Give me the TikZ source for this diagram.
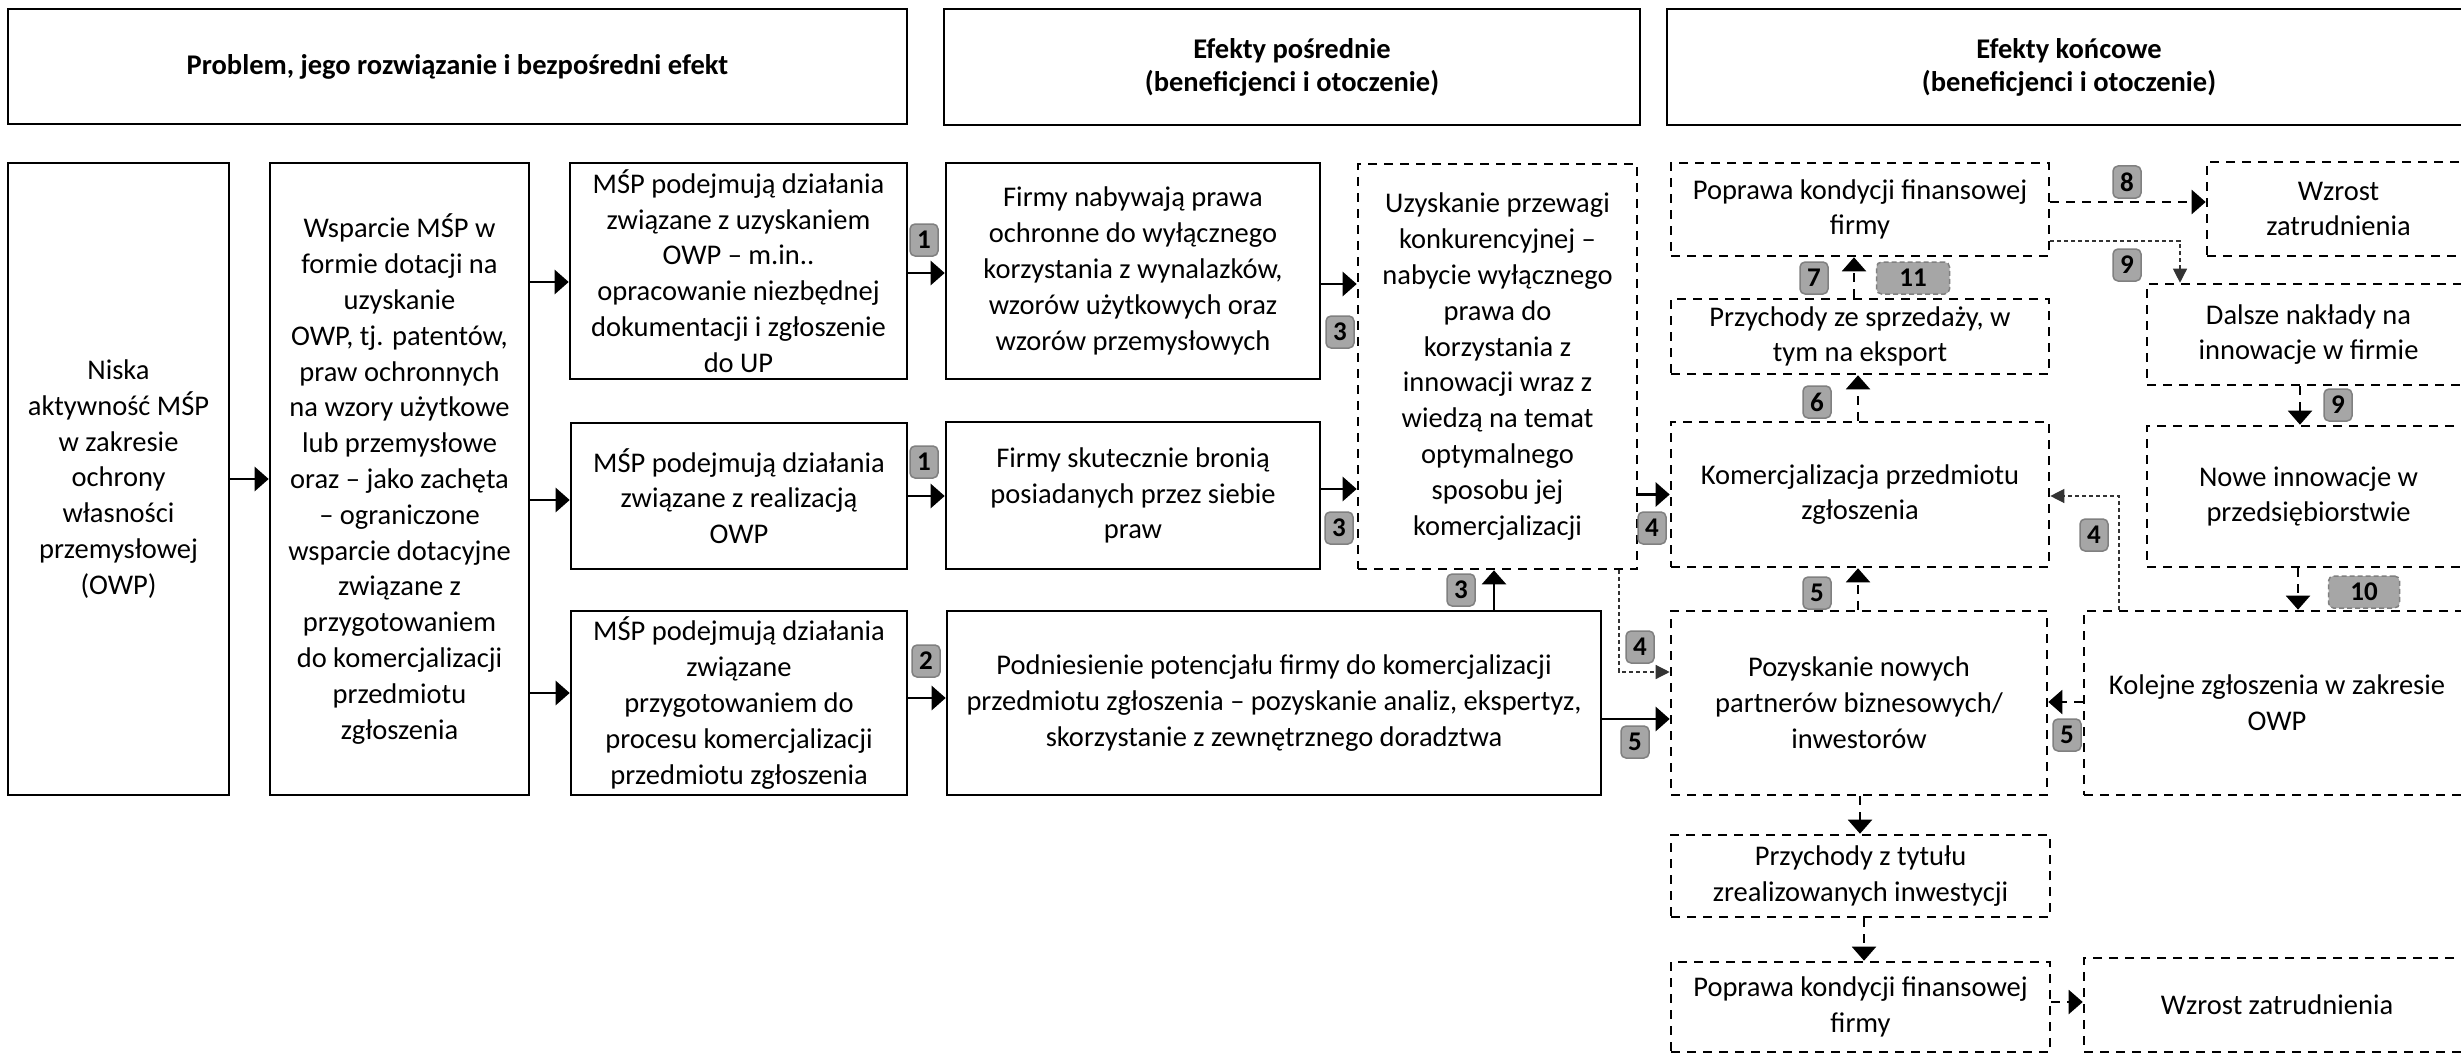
\documentclass[tikz,border=0pt]{standalone}
\usepackage{fontspec}
\setmainfont{Carlito}
\usetikzlibrary{arrows.meta,calc}
\begin{document}
\begin{tikzpicture}[x=1pt,y=-1pt,
  every node/.style={font=\fontsize{28.5}{35.8}\selectfont, align=center, inner sep=0pt},
  hbox/.style={draw, line width=2.8pt, font=\fontsize{28.5}{33}\selectfont\bfseries},
  sbox/.style={draw, line width=2.6pt},
  dbox/.style={draw, line width=2.6pt, dash pattern=on 9pt off 7pt},
  arr/.style={line width=2.6pt, -{Triangle[length=14pt,width=24pt]}},
  darr/.style={line width=2.2pt, dash pattern=on 9pt off 7pt, -{Triangle[length=14pt,width=24pt]}},
  tarr/.style={line width=1.3pt, dash pattern=on 4pt off 3pt, draw=black!80, -{Triangle[length=14pt,width=14pt]}},
  badge/.style={draw=black!50, fill=black!35, line width=1.5pt, rounded corners=5pt, minimum width=28pt, minimum height=32pt, font=\fontsize{27}{30}\selectfont\bfseries},
  dbadge/.style={badge, dash pattern=on 5pt off 3pt},
]
\useasboundingbox (0,0) rectangle (2461,1054);
\clip (0,0) rectangle (2461,1054);

% headers
\node[hbox, minimum width=899pt, minimum height=115pt] (H1) at (457.5,66.5) {Problem, jego rozwiązanie i bezpośredni efekt};
\node[hbox, minimum width=696pt, minimum height=116pt] (H2) at (1292,67) {Efekty pośrednie\\(beneficjenci i otoczenie)};
\node[hbox, minimum width=804pt, minimum height=116pt] (H3) at (2069,67) {Efekty końcowe\\(beneficjenci i otoczenie)};

% column 1-3
\node[sbox, minimum width=221pt, minimum height=632pt] (A) at (118.5,479) {Niska\\aktywność MŚP\\w zakresie\\ochrony\\własności\\przemysłowej\\(OWP)};
\node[sbox, minimum width=259pt, minimum height=632pt] (B) at (399.5,479) {Wsparcie MŚP w\\formie dotacji na\\uzyskanie\\OWP, tj. patentów,\\praw ochronnych\\na wzory użytkowe\\lub przemysłowe\\oraz – jako zachęta\\– ograniczone\\wsparcie dotacyjne\\związane z\\przygotowaniem\\do komercjalizacji\\przedmiotu\\zgłoszenia};
\node[sbox, minimum width=337pt, minimum height=216pt] (C1) at (738.5,271) {MŚP podejmują działania\\związane z uzyskaniem\\OWP – m.in..\\opracowanie niezbędnej\\dokumentacji i zgłoszenie\\do UP};
\node[sbox, minimum width=336pt, minimum height=146pt] (C2) at (739,496) {MŚP podejmują działania\\związane z realizacją\\OWP};
\node[sbox, minimum width=336pt, minimum height=184pt] (C3) at (739,703) {MŚP podejmują działania\\związane\\przygotowaniem do\\procesu komercjalizacji\\przedmiotu zgłoszenia};

% intermediate
\node[sbox, minimum width=374pt, minimum height=216pt] (D1) at (1133,271) {Firmy nabywają prawa\\ochronne do wyłącznego\\korzystania z wynalazków,\\wzorów użytkowych oraz\\wzorów przemysłowych};
\node[sbox, minimum width=374pt, minimum height=147pt] (D2) at (1133,495.5) {Firmy skutecznie bronią\\posiadanych przez siebie\\praw};
\node[sbox, minimum width=654pt, minimum height=184pt] (D3) at (1274,703) {Podniesienie potencjału firmy do komercjalizacji\\przedmiotu zgłoszenia – pozyskanie analiz, ekspertyz,\\skorzystanie z zewnętrznego doradztwa};
\node[dbox, minimum width=279pt, minimum height=405pt] (E) at (1497.5,366.5) {Uzyskanie przewagi\\konkurencyjnej –\\nabycie wyłącznego\\prawa do\\korzystania z\\innowacji wraz z\\wiedzą na temat\\optymalnego\\sposobu jej\\komercjalizacji};

% final
\node[dbox, minimum width=378pt, minimum height=93pt] (F1) at (1860,209.5) {Poprawa kondycji finansowej\\firmy};
\node[dbox, minimum width=378pt, minimum height=75pt] (F2) at (1860,336.5) {Przychody ze sprzedaży, w\\tym na eksport};
\node[dbox, minimum width=378pt, minimum height=145pt] (F3) at (1860,494.5) {Komercjalizacja przedmiotu\\zgłoszenia};
\node[dbox, minimum width=376pt, minimum height=184pt] (H) at (1859,703) {Pozyskanie nowych\\partnerów biznesowych/\\inwestorów};
\node[dbox, minimum width=379pt, minimum height=82pt] (I) at (1860.5,876) {Przychody z tytułu\\zrealizowanych inwestycji};
\node[dbox, minimum width=379pt, minimum height=90pt] (J) at (1860.5,1007) {Poprawa kondycji finansowej\\firmy};
\node[dbox, minimum width=263pt, minimum height=94pt] (G1) at (2338.5,209) {Wzrost\\zatrudnienia};
\node[dbox, minimum width=323pt, minimum height=101pt] (G2) at (2308.5,334.5) {Dalsze nakłady na\\innowacje w firmie};
\node[dbox, minimum width=323pt, minimum height=141pt] (G3) at (2308.5,496.5) {Nowe innowacje w\\przedsiębiorstwie};
\node[dbox, minimum width=386pt, minimum height=184pt] (G4) at (2277,703) {Kolejne zgłoszenia w zakresie\\OWP};
\node[dbox, minimum width=386pt, minimum height=94pt] (K) at (2277,1005) {Wzrost zatrudnienia};

% connectors
\draw[arr] (A.east) -- (B.west);
\coordinate (c1in) at ([yshift=-11pt]C1.west);
\draw[arr] (B.east |- c1in) -- (c1in);
\coordinate (c2in) at ([yshift=-4pt]C2.west);
\draw[arr] (B.east |- c2in) -- (c2in);
\coordinate (c3in) at ([yshift=10pt]C3.west);
\draw[arr] (B.east |- c3in) -- (c3in);
\draw[arr] ([yshift=-2pt]C1.east) -- ([yshift=-2pt]D1.west);
\draw[arr] (C2.east) -- (D2.west |- C2.east);
\draw[arr] ([yshift=5pt]C3.east) -- ([yshift=5pt]D3.west);
\coordinate (d1e) at ([yshift=-13pt]D1.east);
\draw[arr] (d1e) -- (E.west |- d1e);
\coordinate (d2e) at ([yshift=6.5pt]D2.east);
\draw[arr] (d2e) -- (E.west |- d2e);
\coordinate (d3e) at ([xshift=-3.5pt]E.south);
\draw[arr] (D3.north -| d3e) -- (d3e);
\draw[arr] (E.east |- F3.west) -- (F3.west);
\draw[tarr] ([xshift=121.5pt]E.south) |- ([yshift=31pt]H.west);
\coordinate (h5) at ([yshift=-16pt]H.west);
\draw[arr] (D3.east |- h5) -- (h5);
\draw[darr] ([xshift=-1pt]H.north) -- ([xshift=-1pt]H.north |- F3.south);
\draw[darr] ([xshift=-2pt]F3.north) -- ([xshift=-2pt]F3.north |- F2.south);
\draw[darr] ([xshift=-6pt]F2.north) -- ([xshift=-6pt]F2.north |- F1.south);
\coordinate (f1g1) at ([yshift=7.5pt]F1.east);
\draw[darr] (f1g1) -- (G1.west |- f1g1);
\draw[tarr] ([yshift=-31.5pt]F1.east) -| ([xshift=-128.5pt]G2.north);
\draw[darr] ([xshift=-8.5pt]G2.south) -- ([xshift=-8.5pt]G3.north);
\coordinate (g3g4) at ([xshift=-10.5pt]G3.south);
\draw[darr] (g3g4) -- (g3g4 |- G4.north);
\draw[tarr] ([xshift=-158pt]G4.north) |- ([yshift=-1.5pt]F3.east);
\draw[darr] ([yshift=1pt]G4.west) -- ([yshift=1pt]H.east);
\draw[darr] ([xshift=1pt]H.south) -- ([xshift=1pt]H.south |- I.north);
\draw[darr] ([xshift=3.5pt]I.south) -- ([xshift=3.5pt]I.south |- J.north);
\coordinate (jk) at ([yshift=5pt]J.east);
\draw[darr] (jk) -- (K.west |- jk);

% badges
\node[badge] (b1) at (924,240) {1};
\node[badge] (b2) at (924,462) {1};
\node[badge] (b3) at (926,661) {2};
\node[badge] (b4) at (1340,332) {3};
\node[badge] (b5) at (1339,528) {3};
\node[badge] (b6) at (1461,590) {3};
\node[badge] (b7) at (1652,528) {4};
\node[badge] (b8) at (1640,647) {4};
\node[badge] (b9) at (1635,742) {5};
\node[badge] (b10) at (1817,593) {5};
\node[badge] (b11) at (1817,402) {6};
\node[badge] (b12) at (1814,278) {7};
\node[dbadge, minimum width=73pt] (b13) at (1913,278) {11};
\node[badge] (b14) at (2127,182) {8};
\node[badge] (b15) at (2127,265) {9};
\node[badge] (b16) at (2338,405) {9};
\node[dbadge, minimum width=71pt] (b17) at (2364,592) {10};
\node[badge] (b18) at (2094,535) {4};
\node[badge] (b19) at (2067,735) {5};
\end{tikzpicture}
\end{document}
